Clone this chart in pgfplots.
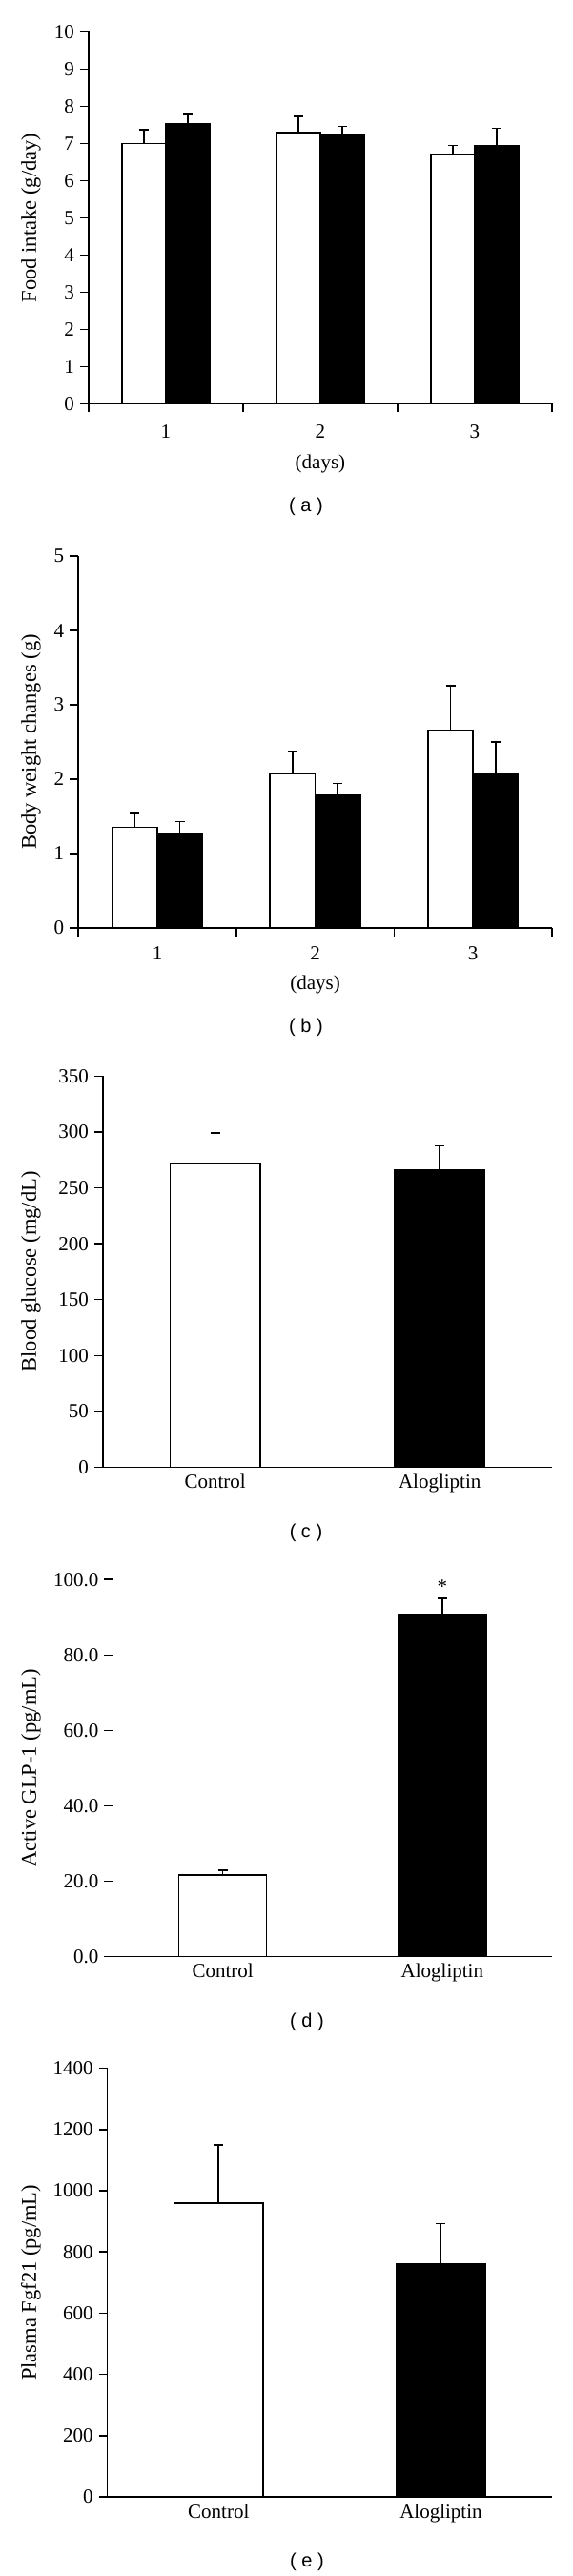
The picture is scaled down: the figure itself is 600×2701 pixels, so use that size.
\documentclass[border=0pt]{standalone}
\usepackage{fontspec}
\setmainfont{Liberation Serif}
\newfontfamily\capfont{Liberation Sans}
\usepackage{pgfplots}
\pgfplotsset{compat=1.18}
\newcommand{\fs}{\fontsize{21}{25}\selectfont}
\newcommand{\ls}{\fontsize{22.5}{27}\selectfont}
\pgfplotsset{
  base/.style={
    scale only axis, anchor=south west,
    axis lines=left, axis line style={-, line width=1.5pt, black},
    tick align=outside, major tick length=9pt, minor tick length=9pt,
    tick style={line width=1.5pt, black},
    enlargelimits=false, ymin=0, ybar, clip=false,
    tick label style={font=\fs},
    label style={font=\fs},
    ylabel style={font=\ls},
    yticklabel style={xshift=-2.5pt},
    /pgf/number format/assume math mode=true,
    /pgf/number format/1000 sep={},
  },
  eb/.style={
    error bars/y dir=plus, error bars/y explicit,
    error bars/error bar style={line width=1.6pt, black},
    error bars/error mark options={rotate=90, line width=1.6pt, mark size=5pt, black}},
  wbar/.style={draw=black, fill=white, line width=1.6pt, eb},
  bbar/.style={draw=black, fill=black, line width=1.6pt, eb},
  days/.style={
    xmin=0.5, xmax=3.5, xtick={1,2,3},
    minor xtick={0.5,1.5,2.5,3.5},
    major x tick style={draw=none},
    minor x tick style={draw=black, line width=1.5pt},
    xlabel={(days)},
  },
  two/.style={
    xmin=0.5, xmax=2.5, xtick={1,2},
    xticklabels={Control,Alogliptin},
    major x tick style={draw=none},
    xticklabel style={yshift=4.8pt},
    bar width=0.4, bar shift=0pt,
  },
}
\begin{document}
\begin{tikzpicture}
\path[use as bounding box] (0,0) rectangle (600pt,2701pt);

% (a)
\begin{axis}[base, days, at={(92.9pt,2277.5pt)}, width=486.1pt, height=390pt,
  ymax=10, ytick={0,1,...,10}, bar width=0.283,
  xticklabel style={yshift=-9.8pt},
  xlabel style={at={(axis description cs:0.5,-0.1603)}, anchor=center},
  ylabel={Food intake (g/day)},
  ylabel style={at={(axis description cs:-0.1243,0.5)}, anchor=center}]
\addplot[wbar, bar shift=-0.1415] table[x=x, y=y, y error=e] {
x y e
1 7.00 0.37
2 7.30 0.43
3 6.70 0.25
};
\addplot[bbar, bar shift=0.1415] table[x=x, y=y, y error=e] {
x y e
1 7.53 0.25
2 7.25 0.21
3 6.95 0.46
};
\end{axis}
\node[font=\capfont\fontsize{20}{24}\selectfont] at (321pt,2170pt) {( a )};

% (b)
\begin{axis}[base, days, at={(82.2pt,1728.2pt)}, width=496.8pt, height=389.6pt,
  ymax=5, ytick={0,1,...,5}, bar width=0.286,
  xticklabel style={yshift=-7.3pt},
  xlabel style={at={(axis description cs:0.5,-0.1545)}, anchor=center},
  ylabel={Body weight changes (g)},
  ylabel style={at={(axis description cs:-0.1000,0.5)}, anchor=center}]
\addplot[wbar, bar shift=-0.143] table[x=x, y=y, y error=e] {
x y e
1 1.35 0.20
2 2.08 0.30
3 2.66 0.60
};
\addplot[bbar, bar shift=0.143] table[x=x, y=y, y error=e] {
x y e
1 1.27 0.16
2 1.78 0.16
3 2.06 0.44
};
\end{axis}
\node[font=\capfont\fontsize{20}{24}\selectfont] at (321pt,1624pt) {( b )};

% (c)
\begin{axis}[base, two, at={(107.8pt,1162.4pt)}, width=471.2pt, height=410.3pt,
  ymax=350, ytick={0,50,...,350},
  ylabel={Blood glucose (mg/dL)},
  ylabel style={at={(axis description cs:-0.1598,0.5)}, anchor=center}]
\addplot[wbar] table[x=x, y=y, y error=e] {
x y e
1 271.8 27.3
};
\addplot[bbar] table[x=x, y=y, y error=e] {
x y e
2 265.6 21.8
};
\end{axis}
\node[font=\capfont\fontsize{20}{24}\selectfont] at (321pt,1093.4pt) {( c )};

% (d)
\begin{axis}[base, two, at={(118.5pt,649.3pt)}, width=460.5pt, height=395.5pt,
  ymax=100, ytick={0,20,...,100},
  yticklabel style={/pgf/number format/.cd, fixed, fixed zerofill, precision=1},
  ylabel={Active GLP-1 (pg/mL)},
  ylabel style={at={(axis description cs:-0.1868,0.5)}, anchor=center}]
\addplot[wbar] table[x=x, y=y, y error=e] {
x y e
1 21.6 1.3
};
\addplot[bbar] table[x=x, y=y, y error=e] {
x y e
2 90.7 4.3
};
\node[font=\fs, anchor=south, inner sep=0pt] at (axis cs:2,96.3) {*};
\end{axis}
\node[font=\capfont\fontsize{20}{24}\selectfont] at (322pt,581pt) {( d )};

% (e)
\begin{axis}[base, two, at={(112.7pt,83pt)}, width=466.3pt, height=449.4pt,
  ymax=1400, ytick={0,200,...,1400},
  ylabel={Plasma Fgf21 (pg/mL)},
  ylabel style={at={(axis description cs:-0.1720,0.5)}, anchor=center}]
\addplot[wbar] table[x=x, y=y, y error=e] {
x y e
1 959.7 189.1
};
\addplot[bbar] table[x=x, y=y, y error=e] {
x y e
2 760.9 131.1
};
\end{axis}
\node[font=\capfont\fontsize{20}{24}\selectfont] at (322pt,15pt) {( e )};
\end{tikzpicture}
\end{document}
